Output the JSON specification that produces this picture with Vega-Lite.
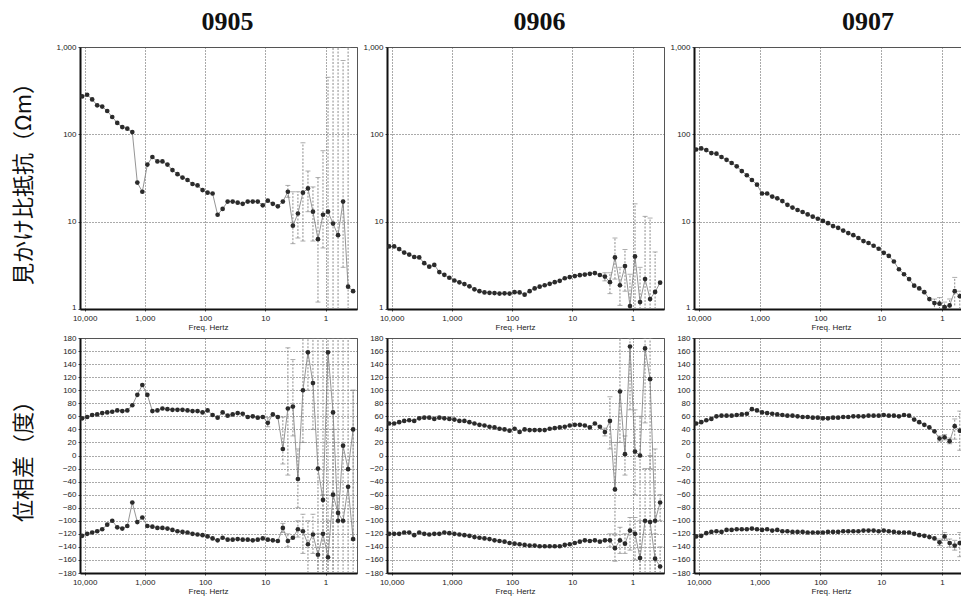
{
"$schema":"https://vega.github.io/schema/vega-lite/v6.json",
"background":"white",
"padding":{"left":11,"top":8,"right":0,"bottom":0},
"columns":3,
"bounds":"flush",
"spacing":{"row":29,"column":30},
"datasets":{
"pts":[
{"st":"0905","f":11007,"r":272,"a":57,"b":-123},{"st":"0905","f":9085,"r":284,"a":59,"b":-120},{"st":"0905","f":7499,"r":251,"a":62,"b":-118},{"st":"0905","f":6190,"r":215,"a":63,"b":-116},{"st":"0905","f":5109,"r":208,"a":65,"b":-113},{"st":"0905","f":4217,"r":185,"a":66,"b":-106},{"st":"0905","f":3481,"r":158,"a":67,"b":-100},{"st":"0905","f":2873,"r":135,"a":69,"b":-110},{"st":"0905","f":2371,"r":121,"a":68,"b":-112},{"st":"0905","f":1957,"r":116,"a":69,"b":-108},{"st":"0905","f":1616,"r":106,"a":77,"b":-72},{"st":"0905","f":1334,"r":28,"a":93,"b":-102},{"st":"0905","f":1101,"r":22,"a":108,"b":-95},{"st":"0905","f":908.5,"r":45,"a":93,"b":-108},{"st":"0905","f":749.9,"r":55,"a":68,"b":-109},{"st":"0905","f":619,"r":49,"a":69,"b":-111},{"st":"0905","f":510.9,"r":49,"a":72,"b":-111},{"st":"0905","f":421.7,"r":45,"a":71,"b":-112},{"st":"0905","f":348.1,"r":39,"a":70,"b":-114},{"st":"0905","f":287.3,"r":35,"a":70,"b":-116},{"st":"0905","f":237.1,"r":32,"a":70,"b":-117},{"st":"0905","f":195.7,"r":30,"a":69,"b":-118},{"st":"0905","f":161.6,"r":27,"a":68,"b":-120},{"st":"0905","f":133.4,"r":26,"a":68,"b":-121},{"st":"0905","f":110.1,"r":23,"a":66,"b":-122},{"st":"0905","f":90.85,"r":21.5,"a":69,"b":-124},{"st":"0905","f":74.99,"r":21,"a":62,"b":-127},{"st":"0905","f":61.9,"r":12,"a":58,"b":-130},{"st":"0905","f":51.09,"r":14,"a":66,"b":-126},{"st":"0905","f":42.17,"r":17,"a":61,"b":-129},{"st":"0905","f":34.81,"r":17,"a":63,"b":-129},{"st":"0905","f":28.73,"r":16.5,"a":65,"b":-128},{"st":"0905","f":23.71,"r":16,"a":64,"b":-129},{"st":"0905","f":19.57,"r":17,"a":59,"b":-129},{"st":"0905","f":16.16,"r":17,"a":60,"b":-130},{"st":"0905","f":13.34,"r":17,"a":58,"b":-129},{"st":"0905","f":11.01,"r":15.4,"a":59,"b":-127},{"st":"0905","f":9.085,"r":17.4,"a":50,"b":-129},{"st":"0905","f":7.499,"r":16,"a":63,"b":-130},{"st":"0905","f":6.19,"r":15,"a":59,"b":-131},{"st":"0905","f":5.109,"r":17,"a":10,"b":-111},{"st":"0905","f":4.217,"r":22,"a":72,"b":-131},{"st":"0905","f":3.481,"r":9,"a":75,"b":-126},{"st":"0905","f":2.873,"r":12.4,"a":-36,"b":-113},{"st":"0905","f":2.371,"r":21.5,"a":100,"b":-116},{"st":"0905","f":1.957,"r":24,"a":158,"b":-136},{"st":"0905","f":1.616,"r":13,"a":111,"b":-121},{"st":"0905","f":1.334,"r":6.3,"a":-20,"b":-152},{"st":"0905","f":1.101,"r":12,"a":-68,"b":-120},{"st":"0905","f":0.9085,"r":13,"a":158,"b":-156},{"st":"0905","f":0.7499,"r":9.5,"a":66,"b":-60},{"st":"0905","f":0.619,"r":7,"a":-100,"b":-88},{"st":"0905","f":0.5109,"r":17,"a":15,"b":-100},{"st":"0905","f":0.4217,"r":1.8,"a":-21,"b":-48},{"st":"0905","f":0.3481,"r":1.6,"a":40,"b":-128},
{"st":"0906","f":11007,"r":5.2,"a":49,"b":-120},{"st":"0906","f":9085,"r":5.2,"a":49,"b":-120},{"st":"0906","f":7499,"r":4.85,"a":51,"b":-120},{"st":"0906","f":6190,"r":4.43,"a":53,"b":-118},{"st":"0906","f":5109,"r":4.2,"a":54,"b":-118},{"st":"0906","f":4217,"r":3.94,"a":53,"b":-122},{"st":"0906","f":3481,"r":3.9,"a":57,"b":-118},{"st":"0906","f":2873,"r":3.35,"a":58,"b":-120},{"st":"0906","f":2371,"r":3.05,"a":58,"b":-121},{"st":"0906","f":1957,"r":3.2,"a":56,"b":-120},{"st":"0906","f":1616,"r":2.65,"a":58,"b":-120},{"st":"0906","f":1334,"r":2.46,"a":57,"b":-118},{"st":"0906","f":1101,"r":2.28,"a":56,"b":-119},{"st":"0906","f":908.5,"r":2.12,"a":55,"b":-120},{"st":"0906","f":749.9,"r":2.02,"a":53,"b":-121},{"st":"0906","f":619,"r":1.93,"a":53,"b":-122},{"st":"0906","f":510.9,"r":1.82,"a":51,"b":-123},{"st":"0906","f":421.7,"r":1.68,"a":49,"b":-125},{"st":"0906","f":348.1,"r":1.6,"a":47,"b":-126},{"st":"0906","f":287.3,"r":1.55,"a":46,"b":-127},{"st":"0906","f":237.1,"r":1.53,"a":44,"b":-128},{"st":"0906","f":195.7,"r":1.52,"a":43,"b":-130},{"st":"0906","f":161.6,"r":1.5,"a":41,"b":-131},{"st":"0906","f":133.4,"r":1.51,"a":40,"b":-132},{"st":"0906","f":110.1,"r":1.5,"a":38,"b":-134},{"st":"0906","f":90.85,"r":1.56,"a":41,"b":-135},{"st":"0906","f":74.99,"r":1.55,"a":36,"b":-136},{"st":"0906","f":61.9,"r":1.46,"a":40,"b":-137},{"st":"0906","f":51.09,"r":1.6,"a":39,"b":-138},{"st":"0906","f":42.17,"r":1.72,"a":39,"b":-138},{"st":"0906","f":34.81,"r":1.8,"a":39,"b":-139},{"st":"0906","f":28.73,"r":1.87,"a":39,"b":-139},{"st":"0906","f":23.71,"r":1.94,"a":41,"b":-139},{"st":"0906","f":19.57,"r":2.03,"a":42,"b":-139},{"st":"0906","f":16.16,"r":2.1,"a":43,"b":-139},{"st":"0906","f":13.34,"r":2.25,"a":44,"b":-137},{"st":"0906","f":11.01,"r":2.32,"a":46,"b":-136},{"st":"0906","f":9.085,"r":2.38,"a":47,"b":-134},{"st":"0906","f":7.499,"r":2.44,"a":47,"b":-132},{"st":"0906","f":6.19,"r":2.48,"a":46,"b":-130},{"st":"0906","f":5.109,"r":2.53,"a":43,"b":-131},{"st":"0906","f":4.217,"r":2.58,"a":49,"b":-130},{"st":"0906","f":3.481,"r":2.45,"a":44,"b":-132},{"st":"0906","f":2.873,"r":2.35,"a":36,"b":-130},{"st":"0906","f":2.371,"r":2.03,"a":53,"b":-130},{"st":"0906","f":1.957,"r":3.9,"a":-52,"b":-142},{"st":"0906","f":1.616,"r":1.87,"a":98,"b":-130},{"st":"0906","f":1.334,"r":3.1,"a":2,"b":-135},{"st":"0906","f":1.101,"r":1.08,"a":167,"b":-115},{"st":"0906","f":0.9085,"r":4.0,"a":6,"b":-120},{"st":"0906","f":0.7499,"r":1.2,"a":0,"b":-157},{"st":"0906","f":0.619,"r":2.2,"a":164,"b":-100},{"st":"0906","f":0.5109,"r":1.3,"a":117,"b":-102},{"st":"0906","f":0.4217,"r":1.57,"a":-100,"b":-158},{"st":"0906","f":0.3481,"r":2.0,"a":-72,"b":-170},
{"st":"0907","f":11007,"r":67,"a":49,"b":-124},{"st":"0907","f":9085,"r":69,"a":51,"b":-123},{"st":"0907","f":7499,"r":66,"a":54,"b":-119},{"st":"0907","f":6190,"r":61,"a":56,"b":-117},{"st":"0907","f":5109,"r":60,"a":60,"b":-116},{"st":"0907","f":4217,"r":55,"a":61,"b":-117},{"st":"0907","f":3481,"r":51,"a":61,"b":-114},{"st":"0907","f":2873,"r":47,"a":61,"b":-114},{"st":"0907","f":2371,"r":43,"a":62,"b":-113},{"st":"0907","f":1957,"r":38,"a":63,"b":-113},{"st":"0907","f":1616,"r":34,"a":64,"b":-113},{"st":"0907","f":1334,"r":30,"a":71,"b":-112},{"st":"0907","f":1101,"r":26.5,"a":69,"b":-113},{"st":"0907","f":908.5,"r":21,"a":66,"b":-114},{"st":"0907","f":749.9,"r":21,"a":65,"b":-113},{"st":"0907","f":619,"r":19.4,"a":64,"b":-115},{"st":"0907","f":510.9,"r":18.5,"a":63,"b":-114},{"st":"0907","f":421.7,"r":17.2,"a":62,"b":-116},{"st":"0907","f":348.1,"r":15.6,"a":61,"b":-116},{"st":"0907","f":287.3,"r":14.5,"a":61,"b":-117},{"st":"0907","f":237.1,"r":13.6,"a":60,"b":-117},{"st":"0907","f":195.7,"r":12.9,"a":59,"b":-117},{"st":"0907","f":161.6,"r":12.1,"a":59,"b":-118},{"st":"0907","f":133.4,"r":11.4,"a":58,"b":-118},{"st":"0907","f":110.1,"r":10.8,"a":58,"b":-118},{"st":"0907","f":90.85,"r":10.2,"a":57,"b":-118},{"st":"0907","f":74.99,"r":9.6,"a":57,"b":-117},{"st":"0907","f":61.9,"r":8.9,"a":58,"b":-117},{"st":"0907","f":51.09,"r":8.5,"a":58,"b":-117},{"st":"0907","f":42.17,"r":7.9,"a":59,"b":-116},{"st":"0907","f":34.81,"r":7.4,"a":59,"b":-116},{"st":"0907","f":28.73,"r":7.0,"a":60,"b":-116},{"st":"0907","f":23.71,"r":6.5,"a":60,"b":-116},{"st":"0907","f":19.57,"r":6.0,"a":60,"b":-115},{"st":"0907","f":16.16,"r":5.7,"a":61,"b":-115},{"st":"0907","f":13.34,"r":5.3,"a":61,"b":-115},{"st":"0907","f":11.01,"r":4.9,"a":61,"b":-116},{"st":"0907","f":9.085,"r":4.4,"a":62,"b":-115},{"st":"0907","f":7.499,"r":4.05,"a":61,"b":-116},{"st":"0907","f":6.19,"r":3.5,"a":61,"b":-117},{"st":"0907","f":5.109,"r":2.85,"a":60,"b":-118},{"st":"0907","f":4.217,"r":2.5,"a":62,"b":-118},{"st":"0907","f":3.481,"r":2.2,"a":61,"b":-118},{"st":"0907","f":2.873,"r":1.85,"a":55,"b":-120},{"st":"0907","f":2.371,"r":1.72,"a":51,"b":-122},{"st":"0907","f":1.957,"r":1.56,"a":47,"b":-123},{"st":"0907","f":1.616,"r":1.3,"a":43,"b":-125},{"st":"0907","f":1.334,"r":1.17,"a":37,"b":-127},{"st":"0907","f":1.101,"r":1.15,"a":26,"b":-133},{"st":"0907","f":0.9085,"r":1.05,"a":28,"b":-124},{"st":"0907","f":0.7499,"r":1.1,"a":22,"b":-134},{"st":"0907","f":0.619,"r":1.6,"a":45,"b":-138},{"st":"0907","f":0.5109,"r":1.4,"a":38,"b":-134}
],
"err":[
{"st":"0905","q":"r","f":4.217,"lo":19,"hi":26},{"st":"0905","q":"r","f":3.481,"lo":5.6,"hi":22},{"st":"0905","q":"r","f":2.873,"lo":6.5,"hi":22},{"st":"0905","q":"r","f":2.371,"lo":6,"hi":80},{"st":"0905","q":"r","f":1.957,"lo":13,"hi":38},{"st":"0905","q":"r","f":1.616,"lo":6,"hi":25},{"st":"0905","q":"r","f":1.334,"lo":1.2,"hi":32},{"st":"0905","q":"r","f":1.101,"lo":5,"hi":65},{"st":"0905","q":"r","f":0.9085,"lo":1,"hi":450},{"st":"0905","q":"r","f":0.7499,"lo":1,"hi":1000},{"st":"0905","q":"r","f":0.619,"lo":1,"hi":1000},{"st":"0905","q":"r","f":0.5109,"lo":3,"hi":700},{"st":"0905","q":"r","f":0.4217,"lo":1,"hi":1000},
{"st":"0905","q":"a","f":9.085,"lo":44,"hi":58},{"st":"0905","q":"a","f":5.109,"lo":-13,"hi":59},{"st":"0905","q":"a","f":4.217,"lo":-30,"hi":165},{"st":"0905","q":"a","f":3.481,"lo":30,"hi":147},{"st":"0905","q":"a","f":2.873,"lo":-80,"hi":10},{"st":"0905","q":"a","f":2.371,"lo":20,"hi":180},{"st":"0905","q":"a","f":1.957,"lo":100,"hi":180},{"st":"0905","q":"a","f":1.616,"lo":40,"hi":180},{"st":"0905","q":"a","f":1.334,"lo":-180,"hi":180},{"st":"0905","q":"a","f":1.101,"lo":-180,"hi":180},{"st":"0905","q":"a","f":0.9085,"lo":-180,"hi":180},{"st":"0905","q":"a","f":0.7499,"lo":-180,"hi":180},{"st":"0905","q":"a","f":0.619,"lo":-180,"hi":180},{"st":"0905","q":"a","f":0.5109,"lo":-180,"hi":180},{"st":"0905","q":"a","f":0.4217,"lo":-180,"hi":180},{"st":"0905","q":"a","f":0.3481,"lo":-130,"hi":100},
{"st":"0905","q":"b","f":5.109,"lo":-118,"hi":-104},{"st":"0905","q":"b","f":4.217,"lo":-140,"hi":-120},{"st":"0905","q":"b","f":2.873,"lo":-125,"hi":-100},{"st":"0905","q":"b","f":2.371,"lo":-150,"hi":-90},{"st":"0905","q":"b","f":1.957,"lo":-180,"hi":-100},{"st":"0905","q":"b","f":1.616,"lo":-150,"hi":-90},{"st":"0905","q":"b","f":1.334,"lo":-180,"hi":-120},{"st":"0905","q":"b","f":1.101,"lo":-180,"hi":-60},{"st":"0905","q":"b","f":0.9085,"lo":-180,"hi":-100},{"st":"0905","q":"b","f":0.7499,"lo":-180,"hi":40},{"st":"0905","q":"b","f":0.3481,"lo":-180,"hi":100},
{"st":"0906","q":"r","f":2.873,"lo":2.1,"hi":2.6},{"st":"0906","q":"r","f":2.371,"lo":1.5,"hi":2.6},{"st":"0906","q":"r","f":1.957,"lo":2.2,"hi":6.5},{"st":"0906","q":"r","f":1.616,"lo":1.1,"hi":3.0},{"st":"0906","q":"r","f":1.334,"lo":1.6,"hi":4.8},{"st":"0906","q":"r","f":1.101,"lo":1,"hi":2.5},{"st":"0906","q":"r","f":0.9085,"lo":1,"hi":16},{"st":"0906","q":"r","f":0.7499,"lo":1,"hi":3},{"st":"0906","q":"r","f":0.619,"lo":1,"hi":11.5},{"st":"0906","q":"r","f":0.5109,"lo":1,"hi":11},{"st":"0906","q":"r","f":0.4217,"lo":1,"hi":4.5},
{"st":"0906","q":"a","f":2.873,"lo":30,"hi":42},{"st":"0906","q":"a","f":2.371,"lo":10,"hi":90},{"st":"0906","q":"a","f":1.957,"lo":-120,"hi":20},{"st":"0906","q":"a","f":1.616,"lo":20,"hi":180},{"st":"0906","q":"a","f":1.334,"lo":-30,"hi":30},{"st":"0906","q":"a","f":1.101,"lo":70,"hi":180},{"st":"0906","q":"a","f":0.9085,"lo":-60,"hi":70},{"st":"0906","q":"a","f":0.7499,"lo":-180,"hi":60},{"st":"0906","q":"a","f":0.619,"lo":50,"hi":180},{"st":"0906","q":"a","f":0.5109,"lo":-20,"hi":180},{"st":"0906","q":"a","f":0.4217,"lo":-180,"hi":10},{"st":"0906","q":"a","f":0.3481,"lo":-100,"hi":-60},
{"st":"0906","q":"b","f":2.371,"lo":-140,"hi":-120},{"st":"0906","q":"b","f":1.957,"lo":-162,"hi":-122},{"st":"0906","q":"b","f":1.616,"lo":-150,"hi":-110},{"st":"0906","q":"b","f":1.334,"lo":-150,"hi":-120},{"st":"0906","q":"b","f":1.101,"lo":-145,"hi":-95},{"st":"0906","q":"b","f":0.9085,"lo":-160,"hi":-95},{"st":"0906","q":"b","f":0.7499,"lo":-180,"hi":-100},{"st":"0906","q":"b","f":0.619,"lo":-180,"hi":-20},{"st":"0906","q":"b","f":0.5109,"lo":-180,"hi":0},{"st":"0906","q":"b","f":0.4217,"lo":-180,"hi":-120},{"st":"0906","q":"b","f":0.3481,"lo":-180,"hi":-140},
{"st":"0907","q":"r","f":1.334,"lo":1.05,"hi":1.3},{"st":"0907","q":"r","f":1.101,"lo":1,"hi":1.35},{"st":"0907","q":"r","f":0.9085,"lo":1,"hi":1.2},{"st":"0907","q":"r","f":0.7499,"lo":1,"hi":1.3},{"st":"0907","q":"r","f":0.619,"lo":1.1,"hi":2.3},{"st":"0907","q":"r","f":0.5109,"lo":1,"hi":1.6},
{"st":"0907","q":"a","f":1.101,"lo":22,"hi":30},{"st":"0907","q":"a","f":0.9085,"lo":24,"hi":32},{"st":"0907","q":"a","f":0.7499,"lo":18,"hi":27},{"st":"0907","q":"a","f":0.619,"lo":25,"hi":56},{"st":"0907","q":"a","f":0.5109,"lo":8,"hi":68},
{"st":"0907","q":"b","f":1.101,"lo":-138,"hi":-128},{"st":"0907","q":"b","f":0.9085,"lo":-130,"hi":-118},{"st":"0907","q":"b","f":0.7499,"lo":-140,"hi":-128},{"st":"0907","q":"b","f":0.619,"lo":-145,"hi":-130},{"st":"0907","q":"b","f":0.5109,"lo":-155,"hi":-118}
]
},
"concat":[
{
"width":277,"height":262,
"title":{"text":"0905","dx":9},
"encoding":{"x":{"field":"f","type":"quantitative","scale":{"type":"log","domain":[0.3,11940],"reverse":true,"nice":false},"axis":{"values":[10000,1000,100,10,1],"format":",","title":"Freq. Hertz","titleX":128}}},
"layer":[
{"data":{"name":"err"},"transform":[{"filter":"datum.st==='0905' && datum.q==='r'"}],"mark":{"type":"rule","color":"#8c8c8c","strokeDash":[2,1.5],"clip":true},"encoding":{"y":{"field":"lo","type":"quantitative","scale":{"type":"log","domain":[1,1000],"nice":false},"axis":{"values":[1,10,100,1000],"format":",","labelBaseline":{"condition":{"test":"datum.value === 1","value":"alphabetic"},"value":"middle"},"title":"見かけ比抵抗（Ωm）","titleFont":"Noto Sans CJK JP","titleFontSize":22,"titleX":-45,"titleColor":"#111"}},"y2":{"field":"hi"}}},
{"data":{"name":"err"},"transform":[{"filter":"datum.st==='0905' && datum.q==='r'"}],"mark":{"type":"tick","orient":"horizontal","size":5,"thickness":1,"color":"#8c8c8c","clip":true},"encoding":{"y":{"field":"hi","type":"quantitative","scale":{"type":"log","domain":[1,1000],"nice":false},"axis":{"values":[1,10,100,1000],"format":",","labelBaseline":{"condition":{"test":"datum.value === 1","value":"alphabetic"},"value":"middle"},"title":"見かけ比抵抗（Ωm）","titleFont":"Noto Sans CJK JP","titleFontSize":22,"titleX":-45,"titleColor":"#111"}}}},
{"data":{"name":"err"},"transform":[{"filter":"datum.st==='0905' && datum.q==='r'"}],"mark":{"type":"tick","orient":"horizontal","size":5,"thickness":1,"color":"#8c8c8c","clip":true},"encoding":{"y":{"field":"lo","type":"quantitative","scale":{"type":"log","domain":[1,1000],"nice":false},"axis":{"values":[1,10,100,1000],"format":",","labelBaseline":{"condition":{"test":"datum.value === 1","value":"alphabetic"},"value":"middle"},"title":"見かけ比抵抗（Ωm）","titleFont":"Noto Sans CJK JP","titleFontSize":22,"titleX":-45,"titleColor":"#111"}}}},
{"data":{"name":"pts"},"transform":[{"filter":"datum.st==='0905'"}],"mark":{"type":"line","color":"#7a7a7a","strokeWidth":0.8,"clip":true},"encoding":{"y":{"field":"r","type":"quantitative","scale":{"type":"log","domain":[1,1000],"nice":false},"axis":{"values":[1,10,100,1000],"format":",","labelBaseline":{"condition":{"test":"datum.value === 1","value":"alphabetic"},"value":"middle"},"title":"見かけ比抵抗（Ωm）","titleFont":"Noto Sans CJK JP","titleFontSize":22,"titleX":-45,"titleColor":"#111"}}}},
{"data":{"name":"pts"},"transform":[{"filter":"datum.st==='0905'"}],"mark":{"type":"point","filled":true,"size":22,"color":"#2b2b2b","opacity":1,"clip":true},"encoding":{"y":{"field":"r","type":"quantitative","scale":{"type":"log","domain":[1,1000],"nice":false},"axis":{"values":[1,10,100,1000],"format":",","labelBaseline":{"condition":{"test":"datum.value === 1","value":"alphabetic"},"value":"middle"},"title":"見かけ比抵抗（Ωm）","titleFont":"Noto Sans CJK JP","titleFontSize":22,"titleX":-45,"titleColor":"#111"}}}}
]
},
{
"width":277,"height":262,
"title":{"text":"0906","dx":14},
"encoding":{"x":{"field":"f","type":"quantitative","scale":{"type":"log","domain":[0.3,11940],"reverse":true,"nice":false},"axis":{"values":[10000,1000,100,10,1],"format":",","title":"Freq. Hertz","titleX":128}}},
"layer":[
{"data":{"name":"err"},"transform":[{"filter":"datum.st==='0906' && datum.q==='r'"}],"mark":{"type":"rule","color":"#8c8c8c","strokeDash":[2,1.5],"clip":true},"encoding":{"y":{"field":"lo","type":"quantitative","scale":{"type":"log","domain":[1,1000],"nice":false},"axis":{"values":[1,10,100,1000],"format":",","labelBaseline":{"condition":{"test":"datum.value === 1","value":"alphabetic"},"value":"middle"},"title":null}},"y2":{"field":"hi"}}},
{"data":{"name":"err"},"transform":[{"filter":"datum.st==='0906' && datum.q==='r'"}],"mark":{"type":"tick","orient":"horizontal","size":5,"thickness":1,"color":"#8c8c8c","clip":true},"encoding":{"y":{"field":"hi","type":"quantitative","scale":{"type":"log","domain":[1,1000],"nice":false},"axis":{"values":[1,10,100,1000],"format":",","labelBaseline":{"condition":{"test":"datum.value === 1","value":"alphabetic"},"value":"middle"},"title":null}}}},
{"data":{"name":"err"},"transform":[{"filter":"datum.st==='0906' && datum.q==='r'"}],"mark":{"type":"tick","orient":"horizontal","size":5,"thickness":1,"color":"#8c8c8c","clip":true},"encoding":{"y":{"field":"lo","type":"quantitative","scale":{"type":"log","domain":[1,1000],"nice":false},"axis":{"values":[1,10,100,1000],"format":",","labelBaseline":{"condition":{"test":"datum.value === 1","value":"alphabetic"},"value":"middle"},"title":null}}}},
{"data":{"name":"pts"},"transform":[{"filter":"datum.st==='0906'"}],"mark":{"type":"line","color":"#7a7a7a","strokeWidth":0.8,"clip":true},"encoding":{"y":{"field":"r","type":"quantitative","scale":{"type":"log","domain":[1,1000],"nice":false},"axis":{"values":[1,10,100,1000],"format":",","labelBaseline":{"condition":{"test":"datum.value === 1","value":"alphabetic"},"value":"middle"},"title":null}}}},
{"data":{"name":"pts"},"transform":[{"filter":"datum.st==='0906'"}],"mark":{"type":"point","filled":true,"size":22,"color":"#2b2b2b","opacity":1,"clip":true},"encoding":{"y":{"field":"r","type":"quantitative","scale":{"type":"log","domain":[1,1000],"nice":false},"axis":{"values":[1,10,100,1000],"format":",","labelBaseline":{"condition":{"test":"datum.value === 1","value":"alphabetic"},"value":"middle"},"title":null}}}}
]
},
{
"width":268,"height":262,
"title":{"text":"0907","dx":40},
"encoding":{"x":{"field":"f","type":"quantitative","scale":{"type":"log","domain":[0.47,11940],"reverse":true,"nice":false},"axis":{"values":[10000,1000,100,10,1],"format":",","title":"Freq. Hertz","titleX":137}}},
"layer":[
{"data":{"name":"err"},"transform":[{"filter":"datum.st==='0907' && datum.q==='r'"}],"mark":{"type":"rule","color":"#8c8c8c","strokeDash":[2,1.5],"clip":true},"encoding":{"y":{"field":"lo","type":"quantitative","scale":{"type":"log","domain":[1,1000],"nice":false},"axis":{"values":[1,10,100,1000],"format":",","labelBaseline":{"condition":{"test":"datum.value === 1","value":"alphabetic"},"value":"middle"},"title":null}},"y2":{"field":"hi"}}},
{"data":{"name":"err"},"transform":[{"filter":"datum.st==='0907' && datum.q==='r'"}],"mark":{"type":"tick","orient":"horizontal","size":5,"thickness":1,"color":"#8c8c8c","clip":true},"encoding":{"y":{"field":"hi","type":"quantitative","scale":{"type":"log","domain":[1,1000],"nice":false},"axis":{"values":[1,10,100,1000],"format":",","labelBaseline":{"condition":{"test":"datum.value === 1","value":"alphabetic"},"value":"middle"},"title":null}}}},
{"data":{"name":"pts"},"transform":[{"filter":"datum.st==='0907'"}],"mark":{"type":"line","color":"#7a7a7a","strokeWidth":0.8,"clip":true},"encoding":{"y":{"field":"r","type":"quantitative","scale":{"type":"log","domain":[1,1000],"nice":false},"axis":{"values":[1,10,100,1000],"format":",","labelBaseline":{"condition":{"test":"datum.value === 1","value":"alphabetic"},"value":"middle"},"title":null}}}},
{"data":{"name":"pts"},"transform":[{"filter":"datum.st==='0907'"}],"mark":{"type":"point","filled":true,"size":22,"color":"#2b2b2b","opacity":1,"clip":true},"encoding":{"y":{"field":"r","type":"quantitative","scale":{"type":"log","domain":[1,1000],"nice":false},"axis":{"values":[1,10,100,1000],"format":",","labelBaseline":{"condition":{"test":"datum.value === 1","value":"alphabetic"},"value":"middle"},"title":null}}}}
]
},
{
"width":277,"height":235,
"encoding":{"x":{"field":"f","type":"quantitative","scale":{"type":"log","domain":[0.3,11940],"reverse":true,"nice":false},"axis":{"values":[10000,1000,100,10,1],"format":",","title":"Freq. Hertz","titleX":128}}},
"layer":[
{"data":{"name":"err"},"transform":[{"filter":"datum.st==='0905' && datum.q!=='r'"}],"mark":{"type":"rule","color":"#8c8c8c","strokeDash":[2,1.5],"clip":true},"encoding":{"y":{"field":"lo","type":"quantitative","scale":{"domain":[-180,180],"nice":false,"zero":false},"axis":{"values":[-180,-160,-140,-120,-100,-80,-60,-40,-20,0,20,40,60,80,100,120,140,160,180],"title":"位相差（度）","titleFont":"Noto Sans CJK JP","titleFontSize":22,"titleX":-45,"titleColor":"#111"}},"y2":{"field":"hi"}}},
{"data":{"name":"err"},"transform":[{"filter":"datum.st==='0905' && datum.q!=='r'"}],"mark":{"type":"tick","orient":"horizontal","size":5,"thickness":1,"color":"#8c8c8c","clip":true},"encoding":{"y":{"field":"hi","type":"quantitative","scale":{"domain":[-180,180],"nice":false,"zero":false},"axis":{"values":[-180,-160,-140,-120,-100,-80,-60,-40,-20,0,20,40,60,80,100,120,140,160,180],"title":"位相差（度）","titleFont":"Noto Sans CJK JP","titleFontSize":22,"titleX":-45,"titleColor":"#111"}}}},
{"data":{"name":"err"},"transform":[{"filter":"datum.st==='0905' && datum.q!=='r'"}],"mark":{"type":"tick","orient":"horizontal","size":5,"thickness":1,"color":"#8c8c8c","clip":true},"encoding":{"y":{"field":"lo","type":"quantitative","scale":{"domain":[-180,180],"nice":false,"zero":false},"axis":{"values":[-180,-160,-140,-120,-100,-80,-60,-40,-20,0,20,40,60,80,100,120,140,160,180],"title":"位相差（度）","titleFont":"Noto Sans CJK JP","titleFontSize":22,"titleX":-45,"titleColor":"#111"}}}},
{"data":{"name":"pts"},"transform":[{"filter":"datum.st==='0905'"}],"mark":{"type":"line","color":"#7a7a7a","strokeWidth":0.8,"clip":true},"encoding":{"y":{"field":"a","type":"quantitative","scale":{"domain":[-180,180],"nice":false,"zero":false},"axis":{"values":[-180,-160,-140,-120,-100,-80,-60,-40,-20,0,20,40,60,80,100,120,140,160,180],"title":"位相差（度）","titleFont":"Noto Sans CJK JP","titleFontSize":22,"titleX":-45,"titleColor":"#111"}}}},
{"data":{"name":"pts"},"transform":[{"filter":"datum.st==='0905'"}],"mark":{"type":"point","filled":true,"size":22,"color":"#2b2b2b","opacity":1,"clip":true},"encoding":{"y":{"field":"a","type":"quantitative","scale":{"domain":[-180,180],"nice":false,"zero":false},"axis":{"values":[-180,-160,-140,-120,-100,-80,-60,-40,-20,0,20,40,60,80,100,120,140,160,180],"title":"位相差（度）","titleFont":"Noto Sans CJK JP","titleFontSize":22,"titleX":-45,"titleColor":"#111"}}}},
{"data":{"name":"pts"},"transform":[{"filter":"datum.st==='0905'"}],"mark":{"type":"line","color":"#7a7a7a","strokeWidth":0.8,"clip":true},"encoding":{"y":{"field":"b","type":"quantitative","scale":{"domain":[-180,180],"nice":false,"zero":false},"axis":{"values":[-180,-160,-140,-120,-100,-80,-60,-40,-20,0,20,40,60,80,100,120,140,160,180],"title":"位相差（度）","titleFont":"Noto Sans CJK JP","titleFontSize":22,"titleX":-45,"titleColor":"#111"}}}},
{"data":{"name":"pts"},"transform":[{"filter":"datum.st==='0905'"}],"mark":{"type":"point","filled":true,"size":22,"color":"#2b2b2b","opacity":1,"clip":true},"encoding":{"y":{"field":"b","type":"quantitative","scale":{"domain":[-180,180],"nice":false,"zero":false},"axis":{"values":[-180,-160,-140,-120,-100,-80,-60,-40,-20,0,20,40,60,80,100,120,140,160,180],"title":"位相差（度）","titleFont":"Noto Sans CJK JP","titleFontSize":22,"titleX":-45,"titleColor":"#111"}}}}
]
},
{
"width":277,"height":235,
"encoding":{"x":{"field":"f","type":"quantitative","scale":{"type":"log","domain":[0.3,11940],"reverse":true,"nice":false},"axis":{"values":[10000,1000,100,10,1],"format":",","title":"Freq. Hertz","titleX":128}}},
"layer":[
{"data":{"name":"err"},"transform":[{"filter":"datum.st==='0906' && datum.q!=='r'"}],"mark":{"type":"rule","color":"#8c8c8c","strokeDash":[2,1.5],"clip":true},"encoding":{"y":{"field":"lo","type":"quantitative","scale":{"domain":[-180,180],"nice":false,"zero":false},"axis":{"values":[-180,-160,-140,-120,-100,-80,-60,-40,-20,0,20,40,60,80,100,120,140,160,180],"title":null}},"y2":{"field":"hi"}}},
{"data":{"name":"err"},"transform":[{"filter":"datum.st==='0906' && datum.q!=='r'"}],"mark":{"type":"tick","orient":"horizontal","size":5,"thickness":1,"color":"#8c8c8c","clip":true},"encoding":{"y":{"field":"hi","type":"quantitative","scale":{"domain":[-180,180],"nice":false,"zero":false},"axis":{"values":[-180,-160,-140,-120,-100,-80,-60,-40,-20,0,20,40,60,80,100,120,140,160,180],"title":null}}}},
{"data":{"name":"err"},"transform":[{"filter":"datum.st==='0906' && datum.q!=='r'"}],"mark":{"type":"tick","orient":"horizontal","size":5,"thickness":1,"color":"#8c8c8c","clip":true},"encoding":{"y":{"field":"lo","type":"quantitative","scale":{"domain":[-180,180],"nice":false,"zero":false},"axis":{"values":[-180,-160,-140,-120,-100,-80,-60,-40,-20,0,20,40,60,80,100,120,140,160,180],"title":null}}}},
{"data":{"name":"pts"},"transform":[{"filter":"datum.st==='0906'"}],"mark":{"type":"line","color":"#7a7a7a","strokeWidth":0.8,"clip":true},"encoding":{"y":{"field":"a","type":"quantitative","scale":{"domain":[-180,180],"nice":false,"zero":false},"axis":{"values":[-180,-160,-140,-120,-100,-80,-60,-40,-20,0,20,40,60,80,100,120,140,160,180],"title":null}}}},
{"data":{"name":"pts"},"transform":[{"filter":"datum.st==='0906'"}],"mark":{"type":"point","filled":true,"size":22,"color":"#2b2b2b","opacity":1,"clip":true},"encoding":{"y":{"field":"a","type":"quantitative","scale":{"domain":[-180,180],"nice":false,"zero":false},"axis":{"values":[-180,-160,-140,-120,-100,-80,-60,-40,-20,0,20,40,60,80,100,120,140,160,180],"title":null}}}},
{"data":{"name":"pts"},"transform":[{"filter":"datum.st==='0906'"}],"mark":{"type":"line","color":"#7a7a7a","strokeWidth":0.8,"clip":true},"encoding":{"y":{"field":"b","type":"quantitative","scale":{"domain":[-180,180],"nice":false,"zero":false},"axis":{"values":[-180,-160,-140,-120,-100,-80,-60,-40,-20,0,20,40,60,80,100,120,140,160,180],"title":null}}}},
{"data":{"name":"pts"},"transform":[{"filter":"datum.st==='0906'"}],"mark":{"type":"point","filled":true,"size":22,"color":"#2b2b2b","opacity":1,"clip":true},"encoding":{"y":{"field":"b","type":"quantitative","scale":{"domain":[-180,180],"nice":false,"zero":false},"axis":{"values":[-180,-160,-140,-120,-100,-80,-60,-40,-20,0,20,40,60,80,100,120,140,160,180],"title":null}}}}
]
},
{
"width":268,"height":235,
"encoding":{"x":{"field":"f","type":"quantitative","scale":{"type":"log","domain":[0.47,11940],"reverse":true,"nice":false},"axis":{"values":[10000,1000,100,10,1],"format":",","title":"Freq. Hertz","titleX":137}}},
"layer":[
{"data":{"name":"err"},"transform":[{"filter":"datum.st==='0907' && datum.q!=='r'"}],"mark":{"type":"rule","color":"#8c8c8c","strokeDash":[2,1.5],"clip":true},"encoding":{"y":{"field":"lo","type":"quantitative","scale":{"domain":[-180,180],"nice":false,"zero":false},"axis":{"values":[-180,-160,-140,-120,-100,-80,-60,-40,-20,0,20,40,60,80,100,120,140,160,180],"title":null}},"y2":{"field":"hi"}}},
{"data":{"name":"err"},"transform":[{"filter":"datum.st==='0907' && datum.q!=='r'"}],"mark":{"type":"tick","orient":"horizontal","size":5,"thickness":1,"color":"#8c8c8c","clip":true},"encoding":{"y":{"field":"hi","type":"quantitative","scale":{"domain":[-180,180],"nice":false,"zero":false},"axis":{"values":[-180,-160,-140,-120,-100,-80,-60,-40,-20,0,20,40,60,80,100,120,140,160,180],"title":null}}}},
{"data":{"name":"err"},"transform":[{"filter":"datum.st==='0907' && datum.q!=='r'"}],"mark":{"type":"tick","orient":"horizontal","size":5,"thickness":1,"color":"#8c8c8c","clip":true},"encoding":{"y":{"field":"lo","type":"quantitative","scale":{"domain":[-180,180],"nice":false,"zero":false},"axis":{"values":[-180,-160,-140,-120,-100,-80,-60,-40,-20,0,20,40,60,80,100,120,140,160,180],"title":null}}}},
{"data":{"name":"pts"},"transform":[{"filter":"datum.st==='0907'"}],"mark":{"type":"line","color":"#7a7a7a","strokeWidth":0.8,"clip":true},"encoding":{"y":{"field":"a","type":"quantitative","scale":{"domain":[-180,180],"nice":false,"zero":false},"axis":{"values":[-180,-160,-140,-120,-100,-80,-60,-40,-20,0,20,40,60,80,100,120,140,160,180],"title":null}}}},
{"data":{"name":"pts"},"transform":[{"filter":"datum.st==='0907'"}],"mark":{"type":"point","filled":true,"size":22,"color":"#2b2b2b","opacity":1,"clip":true},"encoding":{"y":{"field":"a","type":"quantitative","scale":{"domain":[-180,180],"nice":false,"zero":false},"axis":{"values":[-180,-160,-140,-120,-100,-80,-60,-40,-20,0,20,40,60,80,100,120,140,160,180],"title":null}}}},
{"data":{"name":"pts"},"transform":[{"filter":"datum.st==='0907'"}],"mark":{"type":"line","color":"#7a7a7a","strokeWidth":0.8,"clip":true},"encoding":{"y":{"field":"b","type":"quantitative","scale":{"domain":[-180,180],"nice":false,"zero":false},"axis":{"values":[-180,-160,-140,-120,-100,-80,-60,-40,-20,0,20,40,60,80,100,120,140,160,180],"title":null}}}},
{"data":{"name":"pts"},"transform":[{"filter":"datum.st==='0907'"}],"mark":{"type":"point","filled":true,"size":22,"color":"#2b2b2b","opacity":1,"clip":true},"encoding":{"y":{"field":"b","type":"quantitative","scale":{"domain":[-180,180],"nice":false,"zero":false},"axis":{"values":[-180,-160,-140,-120,-100,-80,-60,-40,-20,0,20,40,60,80,100,120,140,160,180],"title":null}}}}
]
}
],
"config":{
"view":{"stroke":"#555","strokeWidth":1},
"font":"Liberation Sans",
"axis":{"labelFont":"Liberation Sans","labelFontSize":8,"labelColor":"#222","labelFlush":false,"labelOverlap":false,"tickSize":2,"tickColor":"#444","labelPadding":1,"domainColor":"#111","domainWidth":2,"grid":true,"gridColor":"#555","gridDash":[1,2],"gridWidth":1,"titleFont":"Liberation Sans","titleFontSize":8,"titleFontWeight":"normal","titleColor":"#222"},
"axisX":{"labelPadding":3,"titlePadding":1},
"axisY":{"labelPadding":2},
"title":{"font":"Liberation Serif","fontSize":26,"fontWeight":"bold","color":"#111","offset":8}
}
}
